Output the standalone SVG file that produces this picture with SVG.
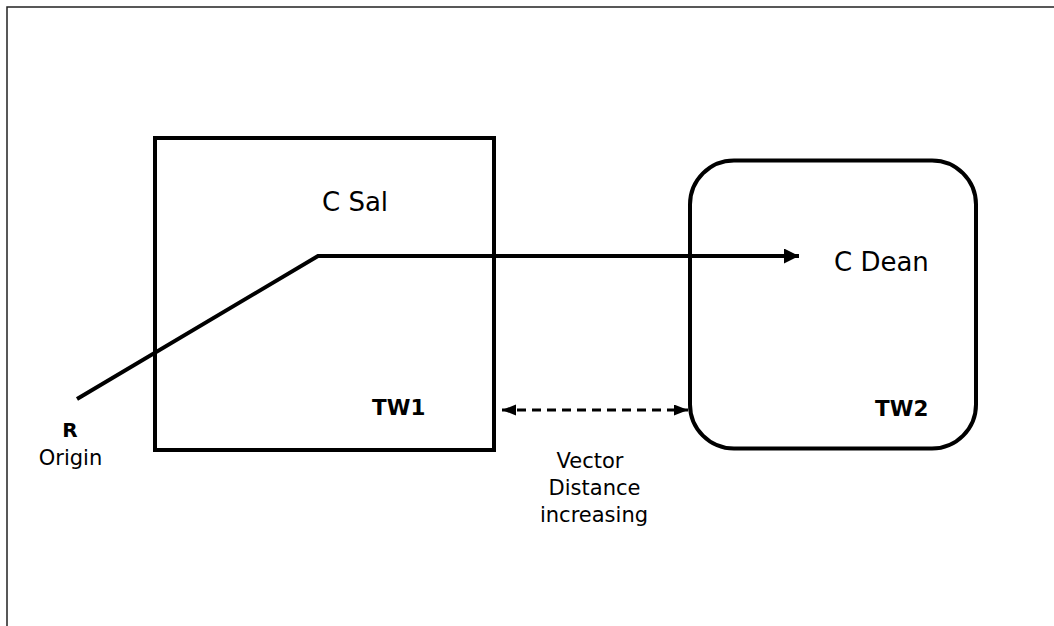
<svg xmlns="http://www.w3.org/2000/svg" width="1054" height="626" viewBox="0 0 1054 626">
  <style>
    .shape { fill: #ffffff; stroke: #000000; stroke-width: 4; }
    .lbl { font-family: "DejaVu Sans", Verdana, sans-serif; fill: #000000; }
    .big { font-size: 26px; }
    .mid { font-size: 21px; }
    .tag { font-size: 21.5px; font-weight: bold; }
    .link { fill: none; stroke: #000000; stroke-width: 4; }
    .dash { fill: none; stroke: #000000; stroke-width: 3; stroke-dasharray: 9 6; }
  </style>
  <defs>
    <marker id="headSolid" markerUnits="userSpaceOnUse" markerWidth="16" markerHeight="16" refX="15" refY="7.5" orient="auto">
      <path d="M0,0 L15,7.5 L0,15 Z" fill="#000000"/>
    </marker>
    <marker id="headDash" markerUnits="userSpaceOnUse" markerWidth="15" markerHeight="12" refX="14" refY="5.5" orient="auto-start-reverse">
      <path d="M0,0 L14,5.5 L0,11 Z" fill="#000000"/>
    </marker>
  </defs>

  <rect width="1054" height="626" fill="#ffffff"/>
  <!-- page frame -->
  <path d="M7,626 L7,7 L1054,7" fill="none" stroke="#222222" stroke-width="1.5"/>

  <g id="tw1">
    <rect class="shape" x="155" y="138" width="339" height="312"/>
    <text class="lbl big" x="322" y="211">C Sal</text>
    <text class="lbl tag" x="372" y="415">TW1</text>
  </g>

  <g id="tw2">
    <rect class="shape" x="690" y="160.5" width="286" height="288" rx="44" ry="44"/>
    <text class="lbl big" x="834" y="271">C Dean</text>
    <text class="lbl tag" x="875" y="416">TW2</text>
  </g>

  <g id="origin">
    <text class="lbl tag" x="70" y="437" text-anchor="middle" style="font-size:20px">R</text>
    <text class="lbl mid" x="70.5" y="465" text-anchor="middle">Origin</text>
  </g>

  <g id="distance-label">
    <text class="lbl mid" x="590" y="468" text-anchor="middle">Vector</text>
    <text class="lbl mid" x="594.5" y="495" text-anchor="middle">Distance</text>
    <text class="lbl mid" x="594" y="521.5" text-anchor="middle">increasing</text>
  </g>

  <g id="connectors">
    <polyline class="link" points="77,399 318,256 799,256" marker-end="url(#headSolid)"/>
    <line class="dash" x1="502" y1="410" x2="688" y2="410" marker-start="url(#headDash)" marker-end="url(#headDash)"/>
  </g>
</svg>
